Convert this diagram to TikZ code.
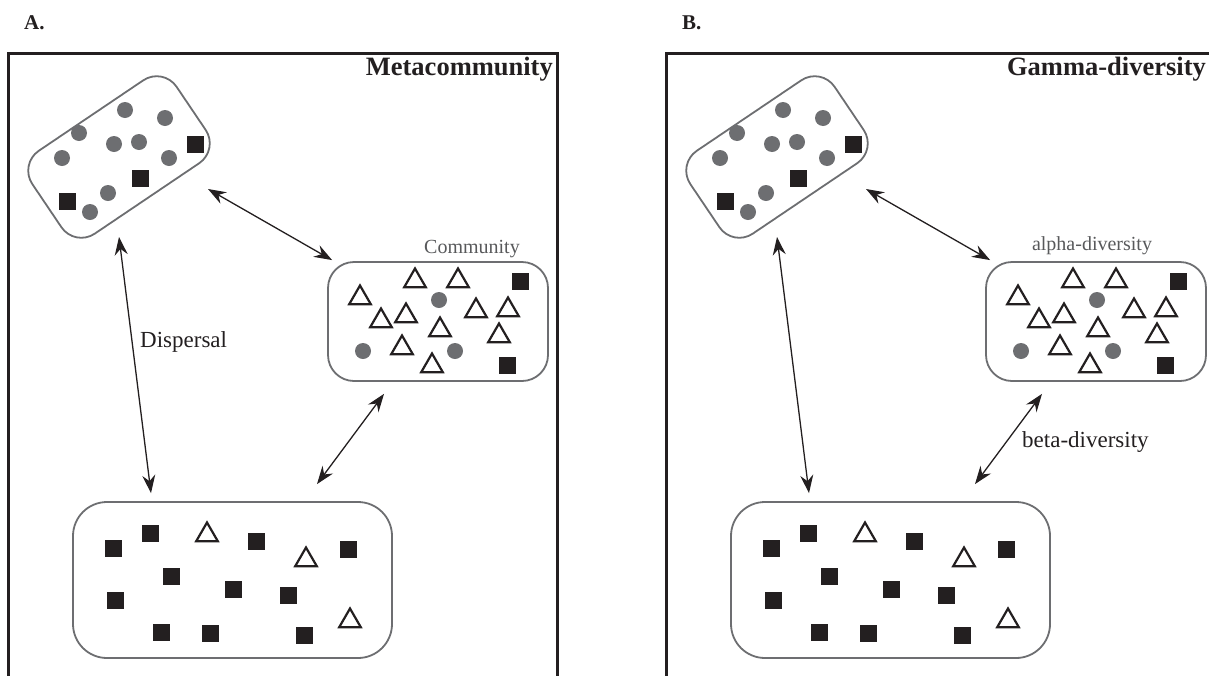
\documentclass[tikz,border=0pt]{standalone}
\usepackage{fontspec}
\setmainfont{Liberation Serif}
\usetikzlibrary{arrows.meta,shapes.geometric}

\definecolor{inkblack}{HTML}{231F20}
\definecolor{patchgray}{HTML}{6D6E71}
\definecolor{lblgray}{HTML}{58595B}

\tikzset{
  panelframe/.style={draw=inkblack, line width=3pt},
  patchbox/.style={draw=patchgray, line width=1.8pt, inner sep=0pt},
  gdot/.style={circle, fill=patchgray, inner sep=0pt, minimum size=16pt},
  bsq/.style={rectangle, fill=inkblack, inner sep=0pt, minimum size=17pt},
  otri/.style={regular polygon, regular polygon sides=3, draw=inkblack, line width=2.2pt, inner sep=0pt, minimum size=25pt},
  disp/.style={{Stealth[length=18pt,width=13pt,inset=6pt]}-{Stealth[length=18pt,width=13pt,inset=6pt]}, line width=1.3pt, draw=inkblack},
  paneltitle/.style={font=\fontsize{26.5}{30}\selectfont\bfseries, text=inkblack, inner sep=0pt},
  panelletter/.style={font=\fontsize{21}{24}\selectfont\bfseries, text=inkblack, inner sep=0pt},
  commlbl/.style={font=\fontsize{20}{24}\selectfont, text=lblgray, inner sep=0pt},
  arrowlbl/.style={font=\fontsize{23}{26}\selectfont, text=inkblack, inner sep=0pt}
}

% the three patches with their species and the dispersal arrows
\newcommand{\drawpatches}{%
  \node[patchbox, rounded corners=24pt, rotate=34, minimum width=174pt, minimum height=100pt] (top) at (119,157) {};
  \node[patchbox, rounded corners=26pt, minimum width=220pt, minimum height=119pt] (comm) at (438,321.5) {};
  \node[patchbox, rounded corners=34pt, minimum width=319pt, minimum height=156pt] (bot) at (232.5,580) {};
  % species
  \foreach \p [count=\i] in {(125,110),(165,118),(79,133),(114,144),(139,142),(169,158),(62,158),(108,193),(90,212)}
    \node[gdot] (topc\i) at \p {};
  \foreach \p [count=\i] in {(195,144),(140,178),(67,201)}
    \node[bsq] (tops\i) at \p {};
  \foreach \p [count=\i] in {(415,281),(458,281),(360,298),(381,321),(406,316),(440,330),(476,311),(508,310),(499,336),(402,348),(432,366)}
    \node[otri] (commt\i) at \p {};
  \foreach \p [count=\i] in {(439,300),(363,351),(455,351)}
    \node[gdot] (commc\i) at \p {};
  \foreach \p [count=\i] in {(520,281),(507,365)}
    \node[bsq] (comms\i) at \p {};
  \foreach \p [count=\i] in {(113,548),(150,533),(256,541),(348,549),(171,576),(115,600),(233,589),(288,595),(161,632),(210,633),(304,635)}
    \node[bsq] (bots\i) at \p {};
  \foreach \p [count=\i] in {(207,535),(306,560),(350,621)}
    \node[otri] (bott\i) at \p {};
  % dispersal
  \draw[disp] ([shift={(89,32)}]top.center) -- ([shift={(5,-1)}]comm.north west);
  \draw[disp] ([shift={(0,80)}]top.center) -- ([shift={(-81.5,-8)}]bot.north);
  \draw[disp] ([shift={(-54,12)}]comm.south) -- ([shift={(84.5,-17)}]bot.north);
}

\begin{document}
\begin{tikzpicture}[x=1pt, y=-1pt]
\useasboundingbox (0,0) rectangle (1209,675);
\clip (0,0) rectangle (1209,675);
% A. metacommunity
\begin{scope}[name prefix=A-]
  \node[panelletter, anchor=base west] (letter) at (24,29) {A.};
  \draw[panelframe] (8,690) -- (8,53) -- (557,53) -- (557,690);
  \node[paneltitle, anchor=base east] (title) at (553,75) {Metacommunity};
  \drawpatches
  \node[commlbl, anchor=base] (commname) at (472,253) {Community};
  \node[arrowlbl, anchor=base west] (displbl) at (140,347) {Dispersal};
\end{scope}
% B. diversity
\begin{scope}[xshift=658pt, name prefix=B-]
  \node[panelletter, anchor=base west] (letter) at (24,29) {B.};
  \draw[panelframe] (8,690) -- (8,53) -- (557,53) -- (557,690);
  \node[paneltitle, anchor=base east] (title) at (548,75) {Gamma-diversity};
  \drawpatches
  \node[commlbl, anchor=base] (commname) at (434,250) {alpha-diversity};
  \node[arrowlbl, anchor=base west] (betalbl) at (364,447) {beta-diversity};
\end{scope}
\end{tikzpicture}
\end{document}
